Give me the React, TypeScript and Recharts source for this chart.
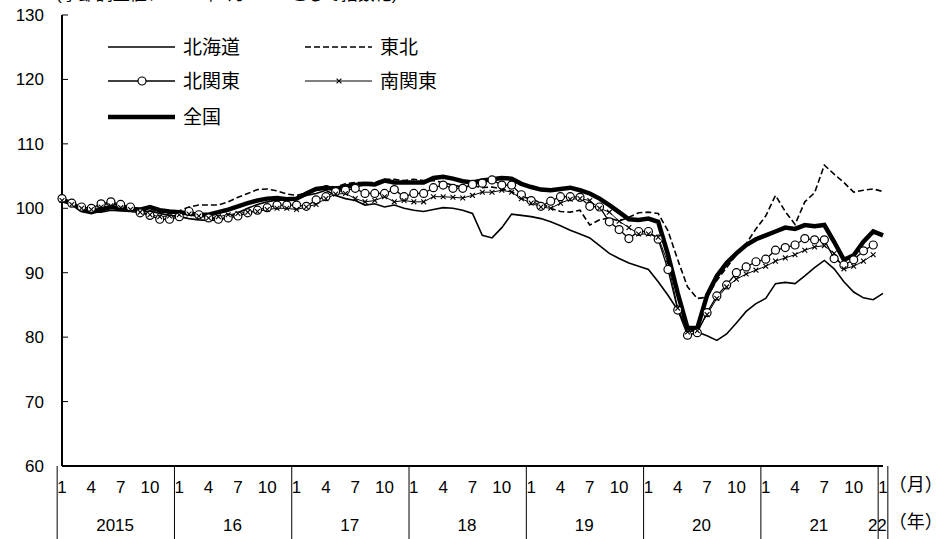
import React from "react";
import { LineChart, Line, XAxis, YAxis } from "recharts";

const W = 944;
const H = 539;
const FONT = "'Liberation Sans', Arial, 'Noto Sans CJK JP', sans-serif";

// 2015年1月〜2022年1月（月次）
const years = [2015, 2016, 2017, 2018, 2019, 2020, 2021, 2022];
const monthTickLabels = [1, 4, 7, 10];
const yTicks = [60, 70, 80, 90, 100, 110, 120, 130];

const hokkaido = [
  101.0, 100.6, 99.8, 99.4, 99.4, 99.7, 99.6, 99.5, 99.3, 99.6, 99.2, 98.9,
  98.7, 98.4, 98.2, 98.1, 98.2, 98.6, 99.3, 100.0, 100.6, 101.0, 101.3, 101.2,
  101.5, 102.0, 102.3, 102.8, 102.0, 101.5, 101.2, 100.5, 100.7, 100.2, 100.5, 100.0,
  99.7, 99.5, 99.8, 100.1, 100.0, 99.7, 99.2, 95.8, 95.4, 97.0, 99.1, 98.9,
  98.7, 98.4, 97.9, 97.3, 96.6, 96.0, 95.4, 94.2, 93.0, 92.2, 91.5, 91.0,
  90.5, 88.6, 86.5, 84.2, 81.3, 80.8, 80.2, 79.5, 80.5, 82.2, 84.0, 85.2,
  86.0, 88.3, 88.5, 88.3, 89.5, 90.8, 91.9, 90.6, 88.6, 87.0, 86.1, 85.8,
  86.8,
];

const tohoku = [
  101.2, 100.7, 100.2, 100.0, 100.5, 100.8, 100.4, 100.0, 99.8, 99.6, 99.4, 99.2,
  99.6, 100.2, 100.5, 100.5, 100.5, 101.0, 101.7, 102.3, 102.9, 103.0, 102.7, 102.2,
  102.0, 102.4, 102.9, 103.5, 103.3, 103.8, 104.0, 104.0, 104.0, 104.5, 104.5, 104.3,
  104.5, 104.3, 104.3, 104.0, 103.6, 103.3, 103.5, 103.2, 103.3, 103.0, 102.6, 101.8,
  101.5, 100.8, 100.0, 99.5, 99.4, 99.7, 97.4, 98.2, 98.5, 98.0, 98.6, 99.3,
  99.4, 99.2, 96.5, 92.0, 87.8, 86.0, 86.2, 88.8, 90.8, 92.8, 94.5, 96.8,
  98.8, 102.0, 99.5, 97.5, 101.0, 102.4, 106.7, 105.3, 104.0, 102.5, 102.8, 103.0,
  102.6,
];

const kitakanto = [
  101.5, 100.8, 100.2, 100.0, 100.7, 101.0, 100.6, 100.2, 99.3, 98.9, 98.3, 98.3,
  98.7, 99.5, 99.0, 98.5, 98.3, 98.5, 98.8, 99.3, 99.7, 100.1, 100.5, 100.5,
  100.5, 100.3, 101.3, 101.8, 102.6, 102.8, 103.1, 102.3, 102.3, 102.3, 102.9, 101.8,
  102.3, 102.3, 103.2, 103.6, 103.1, 103.1, 103.7, 103.9, 104.4, 103.6, 103.6, 102.1,
  101.2, 100.3, 101.1, 101.8, 101.8, 101.7, 100.3, 100.2, 97.9, 96.7, 95.3, 96.4,
  96.4, 95.2, 90.5, 84.2, 80.3, 80.7, 83.8, 86.4, 88.1, 90.0, 90.9, 91.7,
  92.1, 93.5, 93.9, 94.3, 95.3, 95.1, 95.1, 92.2, 91.2, 92.0, 93.4, 94.3,
  null,
];

const minamikanto = [
  101.2, 100.6, 100.0, 99.8, 100.2, 100.4, 100.1, 99.8, 99.4, 99.0, 98.7, 98.8,
  99.0, 99.1, 98.8, 98.5, 98.7, 99.0, 99.2, 99.4, 99.5, 99.8, 100.0, 100.0,
  99.8, 100.2, 100.6, 101.5, 102.2, 102.3, 101.5, 101.0, 101.2, 101.8, 101.0, 101.2,
  101.0, 101.0, 101.8, 101.8, 101.7, 101.6, 102.0, 102.5, 102.5, 102.8, 102.5, 101.5,
  100.8, 100.2, 100.0, 100.8, 101.4, 101.5, 101.2, 100.0, 99.4, 98.0, 97.0, 96.0,
  96.0, 95.5, 91.5, 84.5, 80.8, 81.0, 83.5, 86.0, 87.8, 89.0, 89.8, 90.4,
  91.0, 91.8, 92.3, 92.8, 93.5, 94.0, 94.2, 93.0, 90.6, 91.0, 91.8, 92.8,
  null,
];

const zenkoku = [
  101.3, 100.8, 99.7, 99.4, 99.8, 100.2, 100.0, 99.9, 99.8, 100.2, 99.7, 99.5,
  99.4, 99.2, 99.0, 99.0, 99.4, 99.8, 100.3, 100.8, 101.2, 101.5, 101.6, 101.4,
  101.5, 102.3, 103.0, 103.2, 103.0, 103.4, 103.6, 103.8, 103.7, 104.3, 104.0, 104.0,
  104.0, 104.0, 104.7, 104.9, 104.6, 104.2, 104.0, 104.3, 104.5, 104.7, 104.6, 103.8,
  103.3, 102.9, 102.8, 103.0, 103.2, 102.8, 102.3, 101.5, 100.5, 99.4, 98.3, 98.2,
  98.4, 97.9, 92.8, 86.8, 81.4, 81.4, 86.5, 89.5, 91.5, 93.0, 94.3, 95.2,
  95.8, 96.4, 97.0, 96.8, 97.4, 97.2, 97.4, 94.8, 92.0, 92.7, 94.8, 96.4,
  95.8,
];

const categories: string[] = [];
years.forEach((yr) => {
  const last = yr === 2022 ? 1 : 12;
  for (let m = 1; m <= last; m++) categories.push(`${yr}-${m}`);
});

const data = categories.map((cat, i) => ({
  cat,
  hokkaido: hokkaido[i],
  tohoku: tohoku[i],
  kitakanto: kitakanto[i],
  minamikanto: minamikanto[i],
  zenkoku: zenkoku[i],
}));

const margin = { top: 15, right: 61, bottom: 0, left: 0 };
const yAxisWidth = 62;
const xAxisHeight = 73;
const bandWidth = (W - margin.right - yAxisWidth) / categories.length;

const YTick = (props: any) => {
  const { x, y, payload } = props;
  return (
    <g>
      <line x1={x} x2={x + 6} y1={y} y2={y} stroke="#000" strokeWidth={1} />
      <text x={x - 18} y={y} dy={6} textAnchor="end" fontSize={17} fontFamily={FONT} fill="#000">
        {payload.value}
      </text>
    </g>
  );
};

const MonthTick = (props: any) => {
  const { x, y, payload } = props;
  const [yr, mo] = String(payload.value).split("-").map(Number);
  const idx = categories.indexOf(payload.value);
  const isLast = idx === categories.length - 1;
  const left = x - bandWidth / 2;
  const count = categories.filter((c) => c.startsWith(`${yr}-`)).length;
  const yearLabel = yr === 2015 ? "2015" : String(yr).slice(2);
  return (
    <g fontFamily={FONT} fill="#000">
      {monthTickLabels.includes(mo) && (
        <text x={x} y={y + 27} textAnchor="middle" fontSize={17}>
          {mo}
        </text>
      )}
      {mo === 1 && <line x1={left} x2={left} y1={y} y2={H} stroke="#000" strokeWidth={1} />}
      {mo === 1 && count > 1 && (
        <text x={left + (count * bandWidth) / 2} y={y + 65} textAnchor="middle" fontSize={17}>
          {yearLabel}
        </text>
      )}
      {mo === 1 && count === 1 && (
        <text x={x + bandWidth / 2 - 1} y={y + 65} textAnchor="end" fontSize={17}>
          {yearLabel}
        </text>
      )}
      {isLast && (
        <g>
          <line x1={x + bandWidth / 2} x2={x + bandWidth / 2} y1={y} y2={H} stroke="#000" strokeWidth={1} />
          <text x={x + bandWidth / 2 + 1} y={y + 25} fontSize={18}>（月）</text>
          <text x={x + bandWidth / 2 + 1} y={y + 62} fontSize={18}>（年）</text>
        </g>
      )}
    </g>
  );
};

const CircleDot = (props: any) => {
  const { cx, cy, index, value } = props;
  if (value == null || cy == null) return <g key={index} />;
  return <circle key={index} cx={cx} cy={cy} r={4} fill="#fff" stroke="#000" strokeWidth={1.2} />;
};

const CrossDot = (props: any) => {
  const { cx, cy, index, value } = props;
  if (value == null || cy == null) return <g key={index} />;
  const s = 2.4;
  return (
    <g key={index} stroke="#000" strokeWidth={1.1}>
      <line x1={cx - s} y1={cy - s} x2={cx + s} y2={cy + s} />
      <line x1={cx - s} y1={cy + s} x2={cx + s} y2={cy - s} />
    </g>
  );
};

const legendItems = [
  { name: "北海道", col: 0, row: 0, width: 1.6, dash: undefined, marker: "" },
  { name: "東北", col: 1, row: 0, width: 1.6, dash: "6 3", marker: "" },
  { name: "北関東", col: 0, row: 1, width: 1.3, dash: undefined, marker: "circle" },
  { name: "南関東", col: 1, row: 1, width: 1.0, dash: undefined, marker: "cross" },
  { name: "全国", col: 0, row: 2, width: 4.5, dash: undefined, marker: "" },
];

const ChartLegend = () => {
  const colX = [108, 305];
  const rowY = [47, 81, 117];
  return (
    <svg width={W} height={H} style={{ position: "absolute", left: 0, top: 0, pointerEvents: "none" }}>
      <text x={56} y={0} fontSize={17} fontFamily={FONT}>
        (季節調整値、2015年1月＝100として指数化)
      </text>
      {legendItems.map((it) => {
        const x0 = colX[it.col];
        const y0 = rowY[it.row];
        const mid = x0 + 34;
        return (
          <g key={it.name}>
            <line x1={x0} x2={x0 + 67} y1={y0} y2={y0} stroke="#000" strokeWidth={it.width} strokeDasharray={it.dash} />
            {it.marker === "circle" && <circle cx={mid} cy={y0} r={4} fill="#fff" stroke="#000" strokeWidth={1.2} />}
            {it.marker === "cross" && (
              <g stroke="#000" strokeWidth={1.1}>
                <line x1={mid - 2.4} y1={y0 - 2.4} x2={mid + 2.4} y2={y0 + 2.4} />
                <line x1={mid - 2.4} y1={y0 + 2.4} x2={mid + 2.4} y2={y0 - 2.4} />
              </g>
            )}
            <text x={x0 + 75} y={y0 + 7} fontSize={19} fontFamily={FONT}>
              {it.name}
            </text>
          </g>
        );
      })}
    </svg>
  );
};

export default function App() {
  return (
    <div style={{ position: "absolute", left: 0, top: 0, width: W, height: H, overflow: "hidden", background: "#fff" }}>
      <LineChart width={W} height={H} data={data} margin={margin}>
        <XAxis
          dataKey="cat"
          interval={0}
          height={xAxisHeight}
          tickSize={0}
          tickMargin={0}
          tickLine={false}
          axisLine={{ stroke: "#000", strokeWidth: 2 }}
          tick={<MonthTick />}
        />
        <XAxis
          xAxisId="top"
          dataKey="cat"
          orientation="top"
          height={0}
          tick={false}
          tickLine={false}
          axisLine={{ stroke: "#000", strokeWidth: 2 }}
        />
        <YAxis
          domain={[60, 130]}
          ticks={yTicks}
          width={yAxisWidth}
          tickSize={0}
          tickMargin={0}
          tickLine={false}
          axisLine={{ stroke: "#000", strokeWidth: 2 }}
          tick={<YTick />}
          interval={0}
        />
        <YAxis
          yAxisId="right"
          orientation="right"
          domain={[60, 130]}
          width={0}
          tick={false}
          tickLine={false}
          axisLine={{ stroke: "#000", strokeWidth: 2 }}
        />
        <Line type="linear" dataKey="hokkaido" name="北海道" stroke="#000" strokeWidth={1.6} dot={false} isAnimationActive={false} />
        <Line type="linear" dataKey="tohoku" name="東北" stroke="#000" strokeWidth={1.6} strokeDasharray="6 3" dot={false} isAnimationActive={false} />
        <Line type="linear" dataKey="kitakanto" name="北関東" stroke="#000" strokeWidth={1.3} dot={<CircleDot />} isAnimationActive={false} />
        <Line type="linear" dataKey="minamikanto" name="南関東" stroke="#000" strokeWidth={1} dot={<CrossDot />} isAnimationActive={false} />
        <Line type="linear" dataKey="zenkoku" name="全国" stroke="#000" strokeWidth={4.5} dot={false} isAnimationActive={false} />
      </LineChart>
      <ChartLegend />
    </div>
  );
}
